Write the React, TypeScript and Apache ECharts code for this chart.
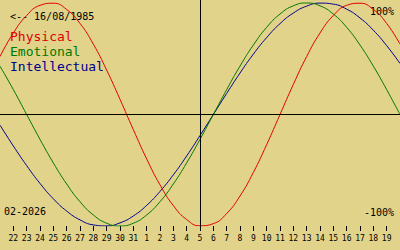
import React, { useEffect, useRef } from "react";
import * as echarts from "echarts";

// Days shown: 21 Jan .. 20 Feb 2026 (today = 5 Feb, index 15)
const days = ["21","22","23","24","25","26","27","28","29","30","31","1","2","3","4","5","6","7","8","9","10","11","12","13","14","15","16","17","18","19","20"];
const todayIndex = 15;

const physical = [0.520,0.731,0.888,0.979,0.998,0.942,0.817,0.631,0.398,0.136,-0.136,-0.398,-0.631,-0.817,-0.942,-0.998,-0.979,-0.888,-0.731,-0.520,-0.270,0,0.270,0.520,0.731,0.888,0.979,0.998,0.942,0.817,0.631];
const emotional = [0.434,0.223,0,-0.223,-0.434,-0.623,-0.782,-0.901,-0.975,-1,-0.975,-0.901,-0.782,-0.623,-0.434,-0.223,0,0.223,0.434,0.623,0.782,0.901,0.975,1,0.975,0.901,0.782,0.623,0.434,0.223,0];
const intellectual = [-0.095,-0.282,-0.458,-0.618,-0.756,-0.866,-0.945,-0.990,-0.999,-0.972,-0.910,-0.815,-0.690,-0.541,-0.372,-0.189,0,0.189,0.372,0.541,0.690,0.815,0.910,0.972,0.999,0.990,0.945,0.866,0.756,0.618,0.458];

const seriesNames = ["Physical", "Emotional", "Intellectual"];
const seriesColors = ["#e00000", "#007800", "#000090"];
const birthLabel = "<-- 16/08/1985";
const monthLabel = "02-2026";
const topLabel = "100%";
const bottomLabel = "-100%";

const BG = "#e1d38a";
const MONO = "'DejaVu Sans Mono', 'Liberation Mono', monospace";

export default function App() {
  const ref = useRef<HTMLDivElement>(null);
  useEffect(() => {
    if (!ref.current) return;
    const chart = echarts.init(ref.current, null, { renderer: "svg" });
    const showIdx = (i: number) => i > 0 && i < days.length - 1;
    const data = [physical, emotional, intellectual];
    chart.setOption({
      animation: false,
      backgroundColor: BG,
      grid: { left: 0, right: 0, top: 0, bottom: 24 },
      xAxis: {
        type: "category",
        data: days,
        boundaryGap: false,
        axisLine: { show: false, onZero: false },
        axisTick: { show: true, interval: showIdx, length: 5, lineStyle: { color: "#000", width: 1 } },
        axisLabel: { interval: showIdx, margin: 8, color: "#000", fontFamily: MONO, fontSize: 8 },
        splitLine: { show: false },
      },
      yAxis: {
        type: "value",
        min: -1,
        max: 1.027,
        show: false,
        splitLine: { show: false },
      },
      series: data.map((d, i) => ({
        name: seriesNames[i],
        type: "line",
        data: d,
        smooth: true,
        showSymbol: false,
        lineStyle: { color: seriesColors[i], width: 1 },
        itemStyle: { color: seriesColors[i] },
        z: 3 - i,
        ...(i === 0
          ? {
              markLine: {
                silent: true,
                symbol: "none",
                label: { show: false },
                lineStyle: { color: "#000", width: 1, type: "solid" },
                data: [{ yAxis: 0 }, { xAxis: todayIndex }],
              },
            }
          : {}),
      })),
      graphic: [
        { type: "text", left: 10, top: 11, style: { text: birthLabel, fill: "#000", font: `10px ${MONO}` } },
        { type: "text", left: 10, top: 30, style: { text: seriesNames[0], fill: seriesColors[0], font: `13px ${MONO}` } },
        { type: "text", left: 10, top: 45, style: { text: seriesNames[1], fill: seriesColors[1], font: `13px ${MONO}` } },
        { type: "text", left: 10, top: 60, style: { text: seriesNames[2], fill: seriesColors[2], font: `13px ${MONO}` } },
        { type: "text", right: 6, top: 6, style: { text: topLabel, fill: "#000", font: `10px ${MONO}` } },
        { type: "text", right: 6, top: 207, style: { text: bottomLabel, fill: "#000", font: `10px ${MONO}` } },
        { type: "text", left: 4, top: 206, style: { text: monthLabel, fill: "#000", font: `10px ${MONO}` } },
      ],
    });
    return () => chart.dispose();
  }, []);
  return <div ref={ref} style={{ position: "fixed", left: 0, top: 0, width: 400, height: 250 }} />;
}
